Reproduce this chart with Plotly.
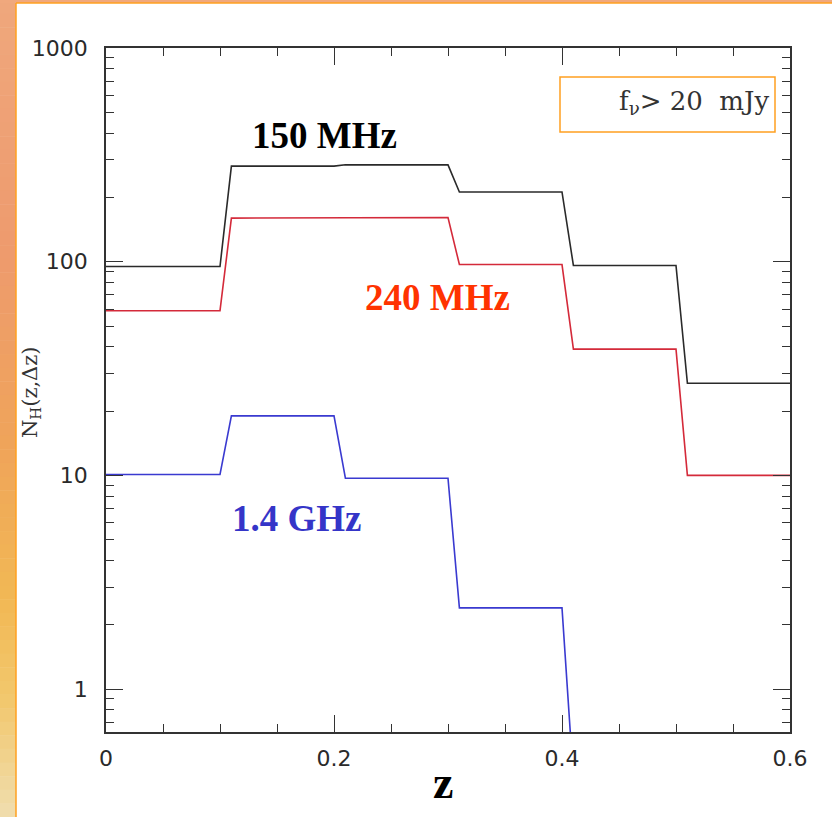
import plotly.graph_objects as go
import numpy as np

# ---- data ----
bin_edges = [0.0, 0.1, 0.2, 0.3, 0.4, 0.5, 0.6]
n150 = [95, 280, 284, 212, 96, 27]       # 150 MHz
n240 = [59, 160, 161, 97, 39, 10]        # 240 MHz
n1400 = [10.1, 19.0, 9.7, 2.4, 0.38, 0.38]  # 1.4 GHz
x_ticks = [0, 0.2, 0.4, 0.6]
x_ticktext = ["0", "0.2", "0.4", "0.6"]
y_ticks = [1, 10, 100, 1000]
y_ticktext = ["1", "10", "100", "1000"]
y_minor = [m * 10.0 ** d for d in (-1, 0, 1, 2) for m in range(2, 10) if 0.63 <= m * 10.0 ** d <= 1000]
ramp = 0.01

def step_line(edges, vals):
    xs, ys = [], []
    for i, v in enumerate(vals):
        xs.append(edges[i] + (ramp if i > 0 else 0))
        ys.append(v)
        xs.append(edges[i + 1])
        ys.append(v)
    return xs, ys

W, H = 832, 817
ML, MR, MT, MB = 106, 42, 48, 85
PW, PH = W - ML - MR, H - MT - MB

def px(x):
    return (x - ML) / PW

def py(y):
    return (H - MB - y) / PH

fig = go.Figure()
for vals, col in [(n1400, "#3a3ad0"), (n240, "#d42a3a"), (n150, "#2a2a2a")]:
    xs, ys = step_line(bin_edges, vals)
    fig.add_trace(go.Scatter(x=xs, y=ys, mode="lines",
                             line=dict(color=col, width=1.6), showlegend=False))

shapes = []
# left gradient strip
stops = [(0, (240, 168, 125)), (250, (238, 155, 110)), (450, (240, 165, 90)),
         (600, (242, 185, 85)), (700, (243, 200, 110)), (817, (240, 222, 175))]
N = 60
for k in range(N):
    y0 = H * k / N
    y1 = H * (k + 1) / N
    yc = (y0 + y1) / 2
    for j in range(len(stops) - 1):
        if stops[j][0] <= yc <= stops[j + 1][0]:
            t = (yc - stops[j][0]) / (stops[j + 1][0] - stops[j][0])
            c = tuple(int(stops[j][1][m] + t * (stops[j + 1][1][m] - stops[j][1][m])) for m in range(3))
            break
    shapes.append(dict(type="rect", xref="paper", yref="paper",
                       x0=px(0), x1=px(16), y0=py(y1 + 0.5), y1=py(y0),
                       fillcolor="rgb(%d,%d,%d)" % c, line=dict(width=0), layer="below"))
# top strip
shapes.append(dict(type="rect", xref="paper", yref="paper",
                   x0=px(0), x1=px(W), y0=py(3), y1=py(0),
                   fillcolor="rgb(240,168,125)", line=dict(width=0), layer="below"))
# panel border lines
shapes.append(dict(type="line", xref="paper", yref="paper",
                   x0=px(16), x1=px(16), y0=py(H), y1=py(3),
                   line=dict(color="#ffa020", width=1.5)))
shapes.append(dict(type="line", xref="paper", yref="paper",
                   x0=px(16), x1=px(W), y0=py(3), y1=py(3),
                   line=dict(color="#ffa020", width=1.5)))
# legend-like box
shapes.append(dict(type="rect", xref="paper", yref="paper",
                   x0=px(560), x1=px(775), y0=py(132), y1=py(77),
                   line=dict(color="#ffa020", width=1.5), fillcolor="rgba(0,0,0,0)"))

lab_font = "Liberation Serif"
annotations = [
    dict(text="<b>150 MHz</b>", x=0.1915, y=np.log10(390), xref="x", yref="y",
         font=dict(family=lab_font, size=37, color="#000000")),
    dict(text="<b>240 MHz</b>", x=0.2905, y=np.log10(68), xref="x", yref="y",
         font=dict(family=lab_font, size=37, color="#ff3300")),
    dict(text="<b>1.4 GHz</b>", x=0.1675, y=np.log10(6.3), xref="x", yref="y",
         font=dict(family=lab_font, size=37, color="#3535c8")),
    dict(text="<b>z</b>", x=px(443), y=py(782), xref="paper", yref="paper",
         font=dict(family=lab_font, size=46, color="#000000")),
    dict(text="N<sub>H</sub>(z,Δz)", x=px(31), y=py(392), xref="paper", yref="paper",
         textangle=-90,
         font=dict(family="DejaVu Serif", size=21, color="#333333")),
    dict(text="f<sub>ν</sub>> 20  mJy", x=px(771), y=py(103), xref="paper", yref="paper",
         xanchor="right",
         font=dict(family="DejaVu Serif", size=26, color="#333333")),
]
for a in annotations:
    a["showarrow"] = False
    a.setdefault("xanchor", "center")
    a["yanchor"] = "middle"

axis_common = dict(showline=True, linecolor="#333333", linewidth=1.5, mirror="allticks",
                   ticks="inside", ticklen=17, tickwidth=1.4, tickcolor="#333333",
                   showgrid=False, zeroline=False,
                   tickfont=dict(family="DejaVu Sans", size=22, color="#2a2a2a"))

fig.update_layout(
    width=W, height=H,
    margin=dict(l=ML, r=MR, t=MT, b=MB),
    paper_bgcolor="white", plot_bgcolor="white",
    shapes=shapes, annotations=annotations,
    xaxis=dict(range=[0, 0.6], tickvals=x_ticks, ticktext=x_ticktext,
               ticklabelstandoff=6,
               minor=dict(tickvals=[i * 0.05 for i in range(13)], ticks="inside", ticklen=8,
                          tickwidth=1.4, tickcolor="#333333", showgrid=False),
               **axis_common),
    yaxis=dict(type="log", range=[np.log10(0.63), 3], tickvals=y_ticks, ticktext=y_ticktext,
               ticklabelstandoff=12,
               minor=dict(tickvals=y_minor, ticks="inside", ticklen=8,
                          tickwidth=1.4, tickcolor="#333333", showgrid=False),
               **axis_common),
)

fig.write_html("out.html")
